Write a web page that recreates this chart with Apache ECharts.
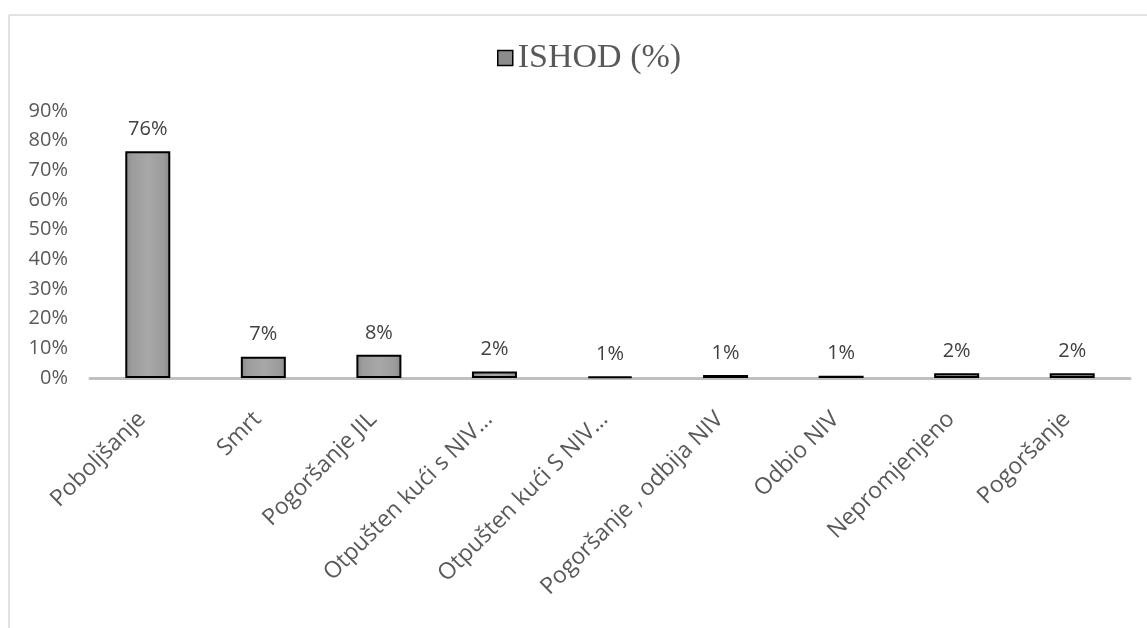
<!DOCTYPE html>
<html>
<head>
<meta charset="utf-8">
<script src="https://cdn.jsdelivr.net/npm/echarts@6/dist/echarts.min.js"></script>
<style>
html,body{margin:0;padding:0;background:#fff;}
#chart{width:1147px;height:628px;}
</style>
</head>
<body>
<div id="chart"></div>
<script>
const categories = ['Poboljšanje', 'Smrt', 'Pogoršanje JIL', 'Otpušten kući s NIV…', 'Otpušten kući S NIV…', 'Pogoršanje , odbija NIV', 'Odbio NIV', 'Nepromjenjeno', 'Pogoršanje'];
const values = [76.4, 7.2, 7.8, 2.2, 0.5, 1.0, 0.8, 1.6, 1.6];
const seriesName = 'ISHOD (%)';
const yMin = 0, yMax = 90, yStep = 10;

const chart = echarts.init(document.getElementById('chart'));
const barFill = new echarts.graphic.LinearGradient(0, 0, 1, 0, [
  {offset: 0, color: '#8a8a8a'},
  {offset: 0.15, color: '#9c9c9c'},
  {offset: 0.5, color: '#a8a8a8'},
  {offset: 0.85, color: '#9c9c9c'},
  {offset: 1, color: '#8a8a8a'}
]);
chart.setOption({
  animation: false,
  backgroundColor: '#fff',
  graphic: [
    {type: 'line', shape: {x1: 9, y1: 15, x2: 1147, y2: 15}, style: {stroke: '#d9d9d9', lineWidth: 1.5}},
    {type: 'line', shape: {x1: 9, y1: 15, x2: 9, y2: 628}, style: {stroke: '#d9d9d9', lineWidth: 1.5}}
  ],
  legend: {
    data: [seriesName],
    left: 492, top: 36,
    itemWidth: 15, itemHeight: 15, itemGap: 4,
    icon: 'rect',
    textStyle: {fontFamily: 'Liberation Serif', fontSize: 34, color: '#595959'},
    itemStyle: {color: '#8c8c8c', borderColor: '#000', borderWidth: 1.5}
  },
  grid: {left: 90, right: 17, top: 111, bottom: 250},
  xAxis: {
    type: 'category',
    data: categories,
    axisLine: {lineStyle: {color: '#bfbfbf', width: 3}},
    axisTick: {show: false},
    axisLabel: {
      rotate: 45, interval: 0, margin: 32, padding: [0, 8, 0, 0],
      fontFamily: 'Open Sans', fontSize: 23, color: '#595959'
    }
  },
  yAxis: {
    type: 'value', min: yMin, max: yMax, interval: yStep,
    splitLine: {show: false},
    axisLine: {show: false},
    axisTick: {show: false},
    axisLabel: {
      formatter: '{value}%', margin: 22,
      fontFamily: 'Open Sans', fontSize: 20, color: '#595959'
    }
  },
  series: [{
    name: seriesName,
    type: 'bar',
    data: values,
    barWidth: 45,
    itemStyle: {color: barFill, borderColor: '#000', borderWidth: 2},
    label: {
      show: true, position: 'top', distance: 12,
      formatter: p => Math.round(p.value) + '%',
      fontFamily: 'Open Sans', fontSize: 20, color: '#404040'
    }
  }]
});
</script>
</body>
</html>
